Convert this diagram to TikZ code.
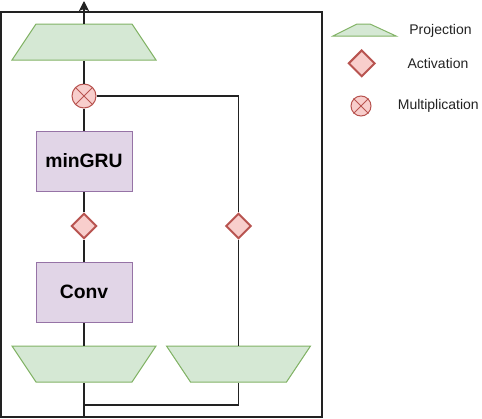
\documentclass[tikz,border=0pt]{standalone}
\usepackage{fontspec}
\setmainfont{Liberation Sans}
\usetikzlibrary{shapes.geometric,arrows.meta}
\definecolor{projfill}{HTML}{D5E8D4}
\definecolor{projdraw}{HTML}{82B366}
\definecolor{actfill}{HTML}{F8CECC}
\definecolor{actdraw}{HTML}{B85450}
\definecolor{blkfill}{HTML}{E1D5E7}
\definecolor{blkdraw}{HTML}{9673A6}
\definecolor{wirecol}{HTML}{222222}
\begin{document}
\begin{tikzpicture}[x=0.75pt,y=-0.75pt,line width=0.75pt,
  projbox/.style={rectangle, minimum width=108pt, minimum height=27pt, inner sep=0pt},
  projshape/.style={fill=projfill, draw=projdraw},
  block/.style={rectangle, minimum width=72pt, minimum height=45pt, inner sep=0pt,
    fill=blkfill, draw=blkdraw, font=\bfseries\fontsize{14.5}{17}\selectfont},
  act/.style={diamond, minimum width=19pt, minimum height=19pt, inner sep=0pt,
    fill=actfill, draw=actdraw, line width=1.5pt},
  mult/.style={circle, minimum size=18pt, inner sep=0pt, fill=actfill, draw=actdraw},
  wire/.style={draw=wirecol, line width=0.9pt},
  legtext/.style={font=\fontsize{10.5}{12}\selectfont, text=wirecol}]
\useasboundingbox (0,0) rectangle (482,418);
% frame
\draw[wirecol, line width=0.9pt] (1,12) rectangle (322,417);
% projection shapes
\filldraw[projshape] (36,24) -- (132,24) -- (156,60) -- (12,60) -- cycle;
\filldraw[projshape] (12,346) -- (156,346) -- (132,382) -- (36,382) -- cycle;
\filldraw[projshape] (166.5,346) -- (310.5,346) -- (286.5,382) -- (190.5,382) -- cycle;
% nodes
\node[projbox] (ptop) at (84,42) {};
\node[mult] (mul) at (84,96) {};
\node[block] (gru) at (84,161) {minGRU};
\node[act] (a1) at (84,226) {};
\node[block] (conv) at (84,292) {Conv};
\node[projbox] (pl) at (84,364) {};
\node[projbox] (pr) at (238.5,364) {};
\node[act] (a2) at (238.5,226) {};
\coordinate (in) at (84,417);
\coordinate (out) at (84,1);
\coordinate (join) at (84,405);
% X in multiplication
\draw[actdraw] (mul.north west) -- (mul.south east) (mul.north east) -- (mul.south west);
% wires
\draw[wire] (in) -- (pl.south);
\draw[wire] (pl.north) -- (conv.south);
\draw[wire] (conv.north) -- (a1.south);
\draw[wire] (a1.north) -- (gru.south);
\draw[wire] (gru.north) -- (mul.south);
\draw[wire] (mul.north) -- (ptop.south);
\draw[wire, -{Stealth[length=7.5pt,width=7.5pt,inset=1.5pt]}] (ptop.north) -- (out);
\draw[wire] (mul.east) -| (a2.north);
\draw[wire] (a2.south) -- (pr.north);
\draw[wire] (pr.south) |- (join);
% legend
\filldraw[projshape] (357,24) -- (370,24) -- (396,36) -- (333,36) -- cycle;
\node[legtext] (lpt) at (440.5,30.5) {Projection};
\node[act, minimum width=20pt, minimum height=20pt] (la) at (361.7,63.3) {};
\node[legtext] (lat) at (438,63) {Activation};
\node[mult, minimum size=15pt] (lm) at (361,106) {};
\draw[actdraw] (lm.north west) -- (lm.south east) (lm.north east) -- (lm.south west);
\node[legtext] (lmt) at (438.3,106) {Multiplication};
\end{tikzpicture}
\end{document}
